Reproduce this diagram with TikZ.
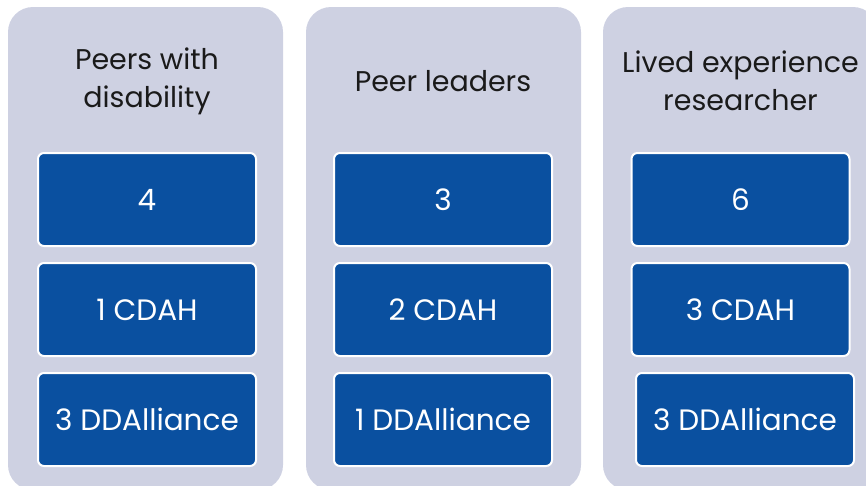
\documentclass[tikz,border=0pt]{standalone}
\usepackage{fontspec}
\setmainfont{Poppins}
\usepackage{tikz}
\usetikzlibrary{positioning}

\definecolor{panelGrey}{HTML}{CED1E2}
\definecolor{boxBlue}{HTML}{0A50A0}
\definecolor{titleInk}{HTML}{1A1A1A}

\begin{document}
\begin{tikzpicture}[x=1pt,y=-1pt]
    \tikzstyle{every node} = [inner sep=0pt]
    \tikzstyle{panel} = [rectangle, fill=panelGrey, rounded corners=25pt, minimum width=275pt, minimum height=483pt]
    \tikzstyle{heading} = [align=center, text=titleInk, font=\fontsize{28.5}{38}\selectfont]
    \tikzstyle{countbox} = [draw=white, line width=2pt, fill=boxBlue, rounded corners=6pt, minimum width=218pt, minimum height=93pt, text=white, font=\fontsize{29.5}{32}\selectfont]
    \useasboundingbox (0,0) rectangle (866,485);

    % panels behind each group
    \node[panel] (peersPanel) at (145.5,248.5) {};
    \node[panel] (leadersPanel) at (443.5,248.5) {};
    \node[panel] (researcherPanel) at (740.5,248.5) {};

    % headings
    \node[heading] (peersTitle) at (147,81) {Peers with\\disability};
    \node[heading] (leadersTitle) at (443,81) {Peer leaders};
    \node[heading] (researcherTitle) at (740.5,81) {Lived experience\\researcher};

    % place nodes
    \node[countbox] (peersTotal) at (147,199.5) {4};
    \node[countbox,below=15pt of peersTotal] (peersCdah) {1 CDAH};
    \node[countbox,below=15pt of peersCdah] (peersDda) {3 DDAlliance};

    \node[countbox] (leadersTotal) at (443,199.5) {3};
    \node[countbox,below=15pt of leadersTotal] (leadersCdah) {2 CDAH};
    \node[countbox,below=15pt of leadersCdah] (leadersDda) {1 DDAlliance};

    \node[countbox] (researcherTotal) at (740.5,199.5) {6};
    \node[countbox,below=15pt of researcherTotal] (researcherCdah) {3 CDAH};
    \node[countbox,below=15pt of researcherCdah,xshift=4.5pt] (researcherDda) {3 DDAlliance};

\end{tikzpicture}
\end{document}
